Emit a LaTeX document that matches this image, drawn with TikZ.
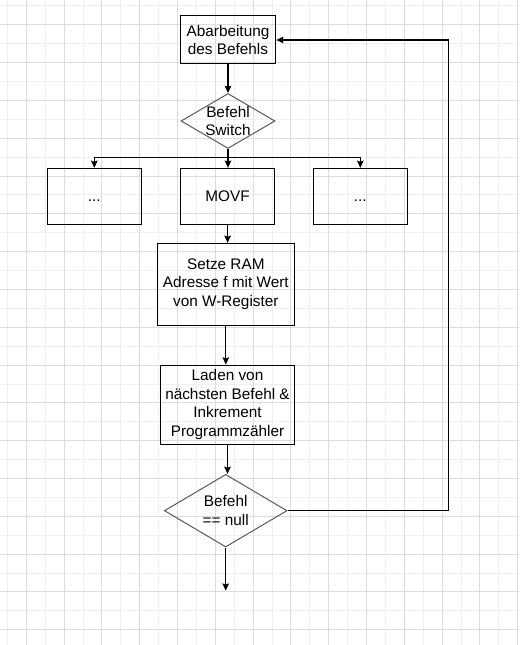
\documentclass[tikz,border=0pt]{standalone}
\usepackage{fontspec}
\setmainfont{Liberation Sans}
\usetikzlibrary{shapes.geometric,arrows.meta}

\definecolor{gridmajor}{HTML}{DCDCDC}
\definecolor{gridminor}{HTML}{EFEFEF}
\definecolor{decline}{HTML}{5A5A5A}

\begin{document}
\begin{tikzpicture}[x=0.75pt,y=-0.75pt,
    every node/.style={font=\fontsize{11.5}{13.9}\selectfont,align=center},
    box/.style={draw,line width=0.75pt,inner sep=1pt},
    rowbox/.style={minimum width=70.5pt,minimum height=41.8pt,text height=8.2pt,text depth=0pt},
    decision/.style={diamond,draw=decline,line width=0.75pt,inner sep=0pt},
    flow/.style={line width=0.8pt,-{Stealth[length=5.5pt,width=5pt,inset=1pt]}}]

    % Background grid
    \useasboundingbox (0,0) rectangle (519,645);
    \fill[white] (0,0) rectangle (519,645);
    \foreach \k in {0,...,27}
      \draw[gridminor,line width=0.75pt] (7.4+18.9*\k,0) -- (7.4+18.9*\k,645);
    \foreach \k in {0,...,33}
      \draw[gridminor,line width=0.75pt] (0,6+18.9*\k) -- (519,6+18.9*\k);
    \foreach \k in {1,3,...,27}
      \draw[gridmajor,line width=0.75pt] (7.4+18.9*\k,0) -- (7.4+18.9*\k,645);
    \foreach \k in {1,3,...,33}
      \draw[gridmajor,line width=0.75pt] (0,6+18.9*\k) -- (519,6+18.9*\k);

    % Steps
    \node[box,minimum width=71.6pt,minimum height=36pt] (exec) at (228,40) {Abarbeitung\\des Befehls};
    \node[decision,minimum width=70.5pt,minimum height=41.25pt,label={center:Befehl\\Switch}] (switch) at (228,121) {};

    \node[box,rowbox] (opleft) at (94.3,196.2) {...};
    \node[box,rowbox] (movf) at (227.6,196.2) {MOVF};
    \node[box,rowbox] (opright) at (360.3,196.2) {...};

    \node[box,minimum width=102.75pt,minimum height=61.3pt] (setram) at (225.8,284.2) {Setze RAM\\Adresse f mit Wert\\von W-Register};
    \node[box,minimum width=100.2pt,minimum height=59.5pt] (fetch) at (227.5,404.7) {Laden von\\nächsten Befehl \&\\Inkrement\\Programmzähler};
    \node[decision,minimum width=92pt,minimum height=54.5pt,label={center:Befehl\\== null}] (isnull) at (225.7,510.7) {};

    % Helper points
    \coordinate (split) at (228,157.3);
    \coordinate (loop) at (448.3,40);
    \coordinate (exit) at (225.7,590.7);

    % Connectors
    \draw[flow] (exec) -- (switch);
    \draw[line width=0.8pt] (switch) -- (split);
    \draw[flow] (split) -| (opleft);
    \draw[flow] (split) -- (split |- movf.north);
    \draw[flow] (split) -| (opright);
    \draw[flow] (movf) -- (movf |- setram.north);
    \draw[flow] (setram) -- (setram |- fetch.north);
    \draw[flow] (fetch) -- (fetch |- isnull.north);
    \draw[flow] (isnull) -| (loop) -- (exec);
    \draw[flow] (isnull) -- (exit);

\end{tikzpicture}
\end{document}
